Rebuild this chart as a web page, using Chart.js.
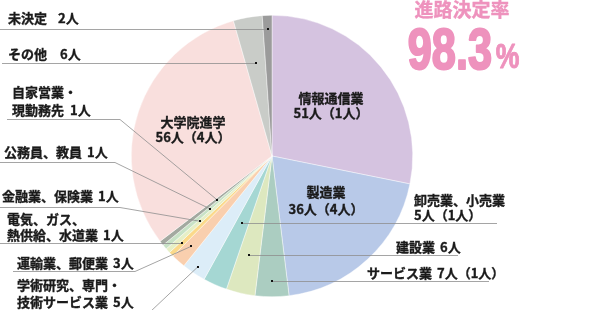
<!DOCTYPE html>
<html lang="ja">
<head>
<meta charset="utf-8">
<script src="https://cdn.jsdelivr.net/npm/chart.js@4.4.0/dist/chart.umd.min.js"></script>
<style>
    html, body { margin: 0; padding: 0; background: #fff; }
    #wrap { width: 610px; height: 310px; }
</style>
</head>
<body>
<div id="wrap"><canvas id="career-chart" width="610" height="310"></canvas></div>
<script>
// 進路内訳（clockwise from top）
var categories = ['情報通信業', '製造業', 'サービス業', '建設業', '卸売業、小売業',
    '学術研究、専門・技術サービス業', '運輸業、郵便業', '電気、ガス、熱供給、水道業',
    '金融業、保険業', '公務員、教員', '自家営業・現勤務先', '大学院進学', 'その他', '未決定'];
var counts = [51, 36, 7, 6, 5, 5, 3, 1, 1, 1, 1, 56, 6, 2];
var internalCounts = [1, 4, 1, 0, 1, 0, 0, 0, 0, 0, 0, 4, 0, 0];
var sliceColors = ['#d5c3e0', '#b8c9e8', '#abcdc1', '#dde8bf', '#a5d7d3', '#dcedf8', '#f9cfae',
    '#fbd98a', '#e6efc6', '#c8e2c6', '#a3a9a0', '#f9dfdd', '#c9ccc8', '#9b9b9b'];
var rateTitle = '進路決定率';
var rateValue = '98.3';

// label placement (text only)
var labelLayout = [
    {name: ['情報通信業'], x: 331, y: 98, lh: 15, align: 'center'},
    {name: ['製造業'], x: 326, y: 192, lh: 17, align: 'center'},
    {name: ['サービス業'], x: 367, y: 273, countX: 437},
    {name: ['建設業'], x: 396, y: 247, countX: 440},
    {name: ['卸売業、小売業'], x: 414, y: 200, lh: 15, countBelow: true},
    {name: ['学術研究、専門・', '技術サービス業'], x: 17, y: 285, lh: 17, countX: 113},
    {name: ['運輸業、郵便業'], x: 17, y: 263, countX: 113},
    {name: ['電気、ガス、', '熱供給、水道業'], x: 7, y: 219, lh: 16, countX: 102},
    {name: ['金融業、保険業'], x: 2, y: 196, countX: 94},
    {name: ['公務員、教員'], x: 4, y: 152, countX: 86},
    {name: ['自家営業・', '現勤務先'], x: 12, y: 92, lh: 18, countX: 70},
    {name: ['大学院進学'], x: 193, y: 122, lh: 15, align: 'center'},
    {name: ['その他'], x: 8, y: 54, countX: 60},
    {name: ['未決定'], x: 8, y: 18, countX: 58}
];
// leader lines: where the dot sits (fraction of radius) and the bends (null y = dot's y)
var dotRadius = [null, null, 0.89, 0.72, 0.52, 0.95, 0.86, 0.89, 0.69, 0.58, 0.5, null, 0.67, 0.9];
var leaderPaths = [
    null, null,
    [[489, null]],
    [[458, null]],
    [[497, null]],
    [[150, 312]],
    [[13, 271.5], [135, 271.5]],
    [[0, null]],
    [[0, 207.5], [120, 207.5]],
    [[0, 162.5], [115, 162.5]],
    [[7, 119.5], [120, 119.5]],
    null,
    [[2, null]],
    [[0, null]]
];

var JP_FONT = '"Noto Sans CJK JP", "Noto Sans", sans-serif';

function countText(i) {
    return counts[i] + '人' + (internalCounts[i] ? '（' + internalCounts[i] + '人）' : '');
}

function boldText(ctx, text, x, y) {
    ctx.strokeText(text, x, y);
    ctx.fillText(text, x, y);
}

var calloutPlugin = {
    id: 'callouts',
    afterDatasetsDraw: function(chart) {
        var ctx = chart.ctx;
        var arcs = chart.getDatasetMeta(0).data;
        ctx.save();

        arcs.forEach(function(arc, i) {
            if (dotRadius[i] == null) return;
            var p = arc.getProps(['x', 'y', 'startAngle', 'endAngle', 'outerRadius'], true);
            var mid = (p.startAngle + p.endAngle) / 2;
            var r = p.outerRadius * dotRadius[i];
            var dx = p.x + Math.cos(mid) * r;
            var dy = p.y + Math.sin(mid) * r;
            var path = leaderPaths[i];
            var hy = Math.round(dy) + 0.5;
            ctx.beginPath();
            path.forEach(function(pt, k) {
                var y = pt[1] == null ? hy : pt[1];
                if (k === 0) ctx.moveTo(pt[0], y); else ctx.lineTo(pt[0], y);
            });
            ctx.lineTo(dx, path[path.length - 1][1] == null ? hy : dy);
            ctx.strokeStyle = '#8e8e8e';
            ctx.lineWidth = 0.8;
            ctx.stroke();
            ctx.fillStyle = '#111';
            ctx.fillRect(Math.round(dx) - 1, Math.round(dy) - 1, 2, 2);
        });

        ctx.fillStyle = '#1a1a1a';
        ctx.strokeStyle = '#1a1a1a';
        ctx.lineWidth = 0.35;
        ctx.font = 'bold 13px ' + JP_FONT;
        ctx.textBaseline = 'middle';
        labelLayout.forEach(function(l, i) {
            var lh = l.lh || 16;
            ctx.textAlign = l.align || 'left';
            l.name.forEach(function(line, k) {
                boldText(ctx, line, l.x, l.y + k * lh);
            });
            var last = l.y + (l.name.length - 1) * lh;
            if (l.align === 'center' || l.countBelow) {
                boldText(ctx, countText(i), l.x, last + lh);
            } else {
                var end = l.x + ctx.measureText(l.name[l.name.length - 1]).width;
                boldText(ctx, countText(i), Math.max(l.countX, end + 5), last);
            }
        });

        // 進路決定率
        ctx.fillStyle = '#ee92bd';
        ctx.strokeStyle = '#ee92bd';
        ctx.textAlign = 'center';
        ctx.font = 'bold 19px ' + JP_FONT;
        ctx.lineWidth = 0.4;
        boldText(ctx, rateTitle, 462, 10);

        ctx.textAlign = 'left';
        ctx.textBaseline = 'alphabetic';
        ctx.translate(407, 70);
        ctx.scale(0.76, 1);
        ctx.lineWidth = 2.2;
        ctx.lineJoin = 'round';
        ctx.font = 'bold 57px "Liberation Sans", sans-serif';
        boldText(ctx, rateValue, 1, -1);
        var w = ctx.measureText(rateValue).width;
        ctx.lineWidth = 1;
        ctx.font = 'bold 35px "Liberation Sans", sans-serif';
        boldText(ctx, '%', w + 6, -2);

        ctx.restore();
    }
};

var careerChart = new Chart(document.getElementById('career-chart'), {
    type: 'pie',
    data: {
        labels: categories,
        datasets: [{
            data: counts,
            backgroundColor: sliceColors,
            borderColor: 'rgba(255,255,255,0.7)',
            borderWidth: 0.6
        }]
    },
    options: {
        responsive: false,
        animation: false,
        events: [],
        layout: {
            padding: {left: 131, right: 197, top: 15, bottom: 13}
        },
        plugins: {
            legend: {display: false},
            tooltip: {enabled: false}
        }
    },
    plugins: [calloutPlugin]
});
</script>
</body>
</html>
